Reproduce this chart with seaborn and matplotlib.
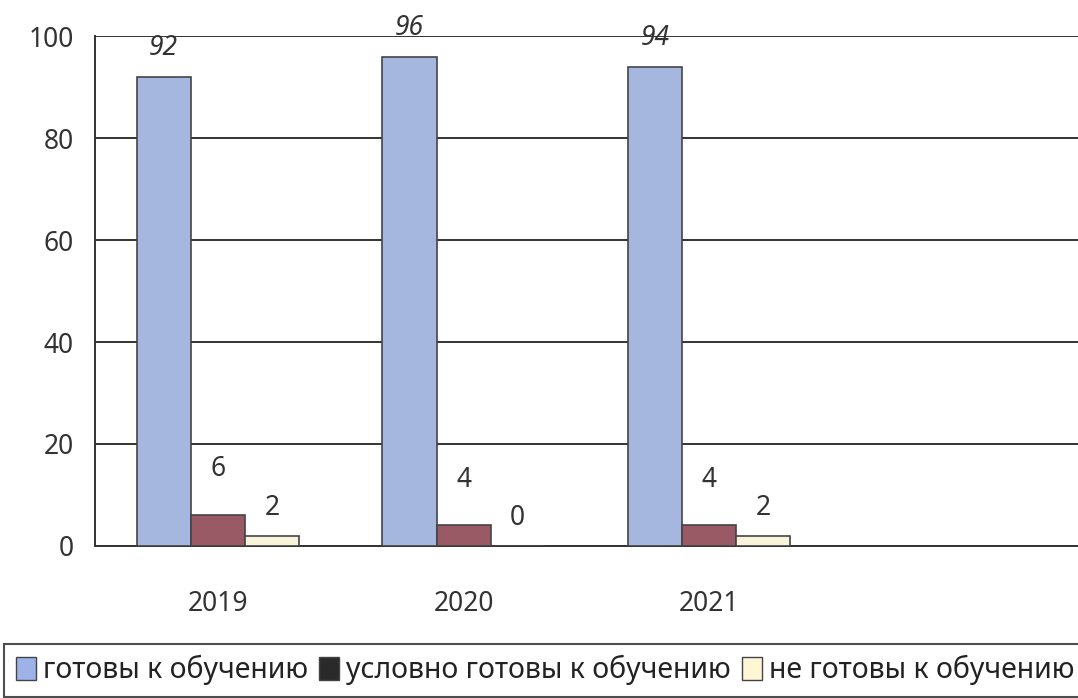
import pandas as pd
import matplotlib.pyplot as plt
import matplotlib.patches as mpatches
import seaborn as sns

# data
years = ["2019", "2020", "2021"]
series = ["готовы к обучению", "условно готовы к обучению", "не готовы к обучению"]
ready = [92, 96, 94]
cond_ready = [6, 4, 4]
not_ready = [2, 0, 2]

bar_colors = ["#9db3e8", "#a3505f", "#fff6d6"]
legend_colors = ["#9db3e8", "#2a2a2a", "#fff6d6"]

rows = []
for name, vals in zip(series, [ready, cond_ready, not_ready]):
    for y, v in zip(years, vals):
        rows.append({"year": y, "series": name, "value": v})
df = pd.DataFrame(rows)

sns.set_style("white")
plt.rcParams['font.family'] = ['Noto Sans', 'DejaVu Sans']

fig = plt.figure(figsize=(10.78, 6.98), dpi=100)
ax = fig.add_axes([0.088, 0.218, 0.912, 0.73])

sns.barplot(data=df, x="year", y="value", hue="series", order=years,
            hue_order=series, palette=bar_colors, width=0.66,
            edgecolor="#444444", linewidth=1.2, legend=False, ax=ax, zorder=3)

ax.set_xlim(-0.5, 3.5)
ax.set_ylim(0, 100)
ax.set_yticks(range(0, 101, 20))
ax.yaxis.grid(True, color="#333333", linewidth=1.4, zorder=0)
ax.set_axisbelow(True)

# category labels without marks, marks at the boundaries
ax.set_xticks(range(3))
ax.set_xticklabels(years)
ax.set_xticks([0.5, 1.5, 2.5], minor=True)
ax.tick_params(axis="x", which="major", length=0, pad=32, labelsize=19, colors="#333333")
ax.tick_params(axis="x", which="minor", length=8, width=1.2, color="#333333", direction="out")
ax.tick_params(axis="y", length=7, width=1.2, color="#333333", labelsize=19, labelcolor="#333333",
               direction="out", pad=8)
for s in ["top", "right"]:
    ax.spines[s].set_visible(False)
for s in ["left", "bottom"]:
    ax.spines[s].set_color("#333333")
    ax.spines[s].set_linewidth(1.4)
ax.set_xlabel("")
ax.set_ylabel("")

# value labels
offsets = [21, 33, 20]
for i, cont in enumerate(ax.containers):
    for bar in cont:
        h = bar.get_height()
        ax.annotate(f"{h:g}", (bar.get_x() + bar.get_width() / 2, h),
                    xytext=(0, offsets[i]), textcoords="offset points",
                    ha="center", va="center", fontsize=19, color="#333333",
                    style="italic" if i == 0 else "normal")

handles = [mpatches.Patch(facecolor=c, edgecolor="#444444", label=l)
           for c, l in zip(legend_colors, series)]
leg = fig.legend(handles=handles, loc="lower left", bbox_to_anchor=(0.004, 0.002),
                 ncol=3, frameon=True, fontsize=20.5, handlelength=0.7,
                 handleheight=0.9, handletextpad=0.25, columnspacing=0.4, borderaxespad=0,
                 fancybox=False, borderpad=0.4)
leg.get_frame().set_edgecolor("#222222")
leg.get_frame().set_linewidth(1.5)
for t in leg.get_texts():
    t.set_color("#222222")

fig.savefig("out.png", dpi=100)
